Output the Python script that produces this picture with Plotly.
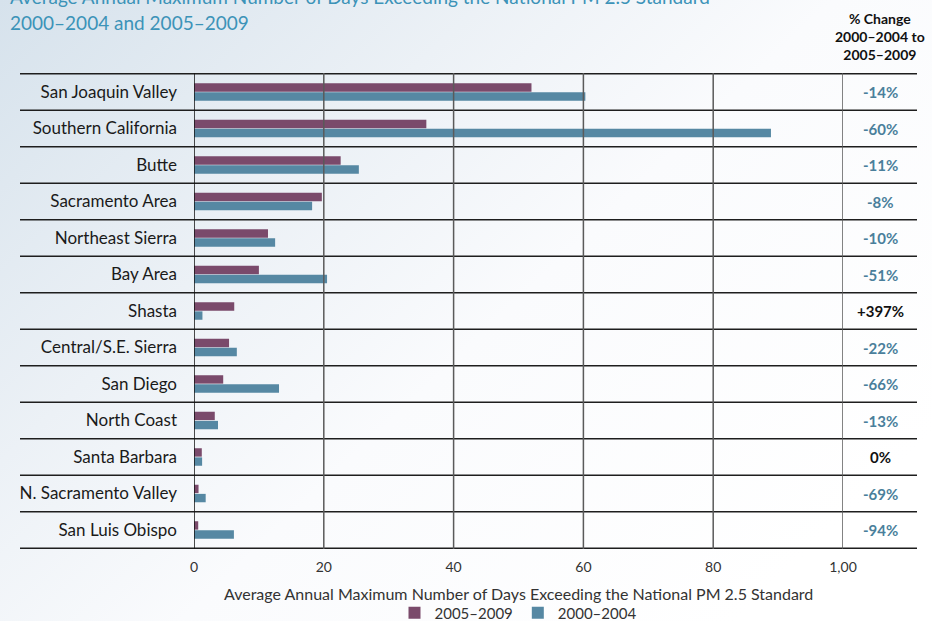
import base64
import plotly.graph_objects as go

# data
REGIONS = [
    "San Joaquin Valley", "Southern California", "Butte", "Sacramento Area",
    "Northeast Sierra", "Bay Area", "Shasta", "Central/S.E. Sierra",
    "San Diego", "North Coast", "Santa Barbara", "N. Sacramento Valley",
    "San Luis Obispo",
]
DAYS_2005_2009 = [52.0, 35.8, 22.6, 19.7, 11.4, 10.0, 6.2, 5.4, 4.5, 3.2, 1.2, 0.7, 0.65]
DAYS_2000_2004 = [60.3, 88.9, 25.4, 18.2, 12.5, 20.5, 1.3, 6.6, 13.1, 3.7, 1.25, 1.8, 6.15]
PCT_CHANGE = ["-14%", "-60%", "-11%", "-8%", "-10%", "-51%", "+397%",
              "-22%", "-66%", "-13%", "0%", "-69%", "-94%"]
TICK_VALS = [0, 20, 40, 60, 80, 100]
TICK_TEXT = ["0", "20", "40", "60", "80", "1,00"]

PURPLE = "#7a4a6b"
TEAL = "#5688a3"
PCT_TEAL = "#4a7f9b"
TITLE_TEAL = "#3c93b8"

W, H = 932, 621
L, R, T, B = 194, 89, 73, 72
pw, ph = W - L - R, H - T - B


def px_x(p):
    return (p - L) / pw


def px_y(p):
    return (H - B - p) / ph


# soft diagonal background like the printed page
svg = f"""<svg xmlns='http://www.w3.org/2000/svg' width='{W}' height='{H}'>
<defs><linearGradient id='g' x1='0' y1='0' x2='1' y2='0.7'>
<stop offset='0' stop-color='#d6e2ec'/><stop offset='0.35' stop-color='#ecf1f6'/>
<stop offset='0.6' stop-color='#fafbfd'/><stop offset='1' stop-color='#ffffff'/>
</linearGradient></defs><rect width='{W}' height='{H}' fill='url(#g)'/></svg>"""
bg_src = "data:image/svg+xml;base64," + base64.b64encode(svg.encode()).decode()

fig = go.Figure()
fig.add_trace(go.Bar(
    y=REGIONS, x=DAYS_2005_2009, orientation="h", name="2005–2009",
    marker=dict(color=PURPLE, line=dict(width=0)),
))
fig.add_trace(go.Bar(
    y=REGIONS, x=DAYS_2000_2004, orientation="h", name="2000–2004",
    marker=dict(color=TEAL, line=dict(width=0)),
))

shapes = []
# row separators spanning the whole table
for i in range(len(REGIONS) + 1):
    shapes.append(dict(
        type="line", xref="paper", yref="y",
        x0=px_x(20), x1=px_x(917), y0=i - 0.5, y1=i - 0.5,
        line=dict(color="#1e1e1e", width=1.5), layer="above",
    ))
# vertical grid lines
for v in TICK_VALS:
    shapes.append(dict(
        type="line", xref="x", yref="paper", x0=v, x1=v, y0=0, y1=1,
        line=dict(color="#111111" if v == 0 else "#5a5a5a", width=1.5),
        layer="above",
    ))

annotations = []
for reg, pct in zip(REGIONS, PCT_CHANGE):
    col = PCT_TEAL if pct.startswith("-") else "#111111"
    annotations.append(dict(
        x=px_x(880), xref="paper", y=reg, yref="y", text=f"<b>{pct}</b>",
        xanchor="center", yanchor="middle", showarrow=False,
        font=dict(family="Lato", size=15, color=col),
    ))
annotations += [
    dict(x=px_x(880), y=px_y(36), xref="paper", yref="paper",
         xanchor="center", yanchor="middle",
         text="<b>% Change<br>2000–2004 to<br>2005–2009</b>",
         showarrow=False, align="center",
         font=dict(family="Lato", size=14, color="#111111")),
    dict(x=px_x(8), y=px_y(-3), xref="paper", yref="paper",
         xanchor="left", yanchor="middle",
         text="Average Annual Maximum Number of Days Exceeding the National PM 2.5 Standard",
         showarrow=False, font=dict(family="Lato", size=19, color=TITLE_TEAL)),
    dict(x=px_x(8), y=px_y(23), xref="paper", yref="paper",
         xanchor="left", yanchor="middle",
         text="2000–2004 and 2005–2009",
         showarrow=False, font=dict(family="Lato", size=19, color=TITLE_TEAL)),
    # axis title placed by hand so the margins stay fixed
    dict(x=px_x(518), y=px_y(593), xref="paper", yref="paper",
         xanchor="center", yanchor="middle",
         text="Average Annual Maximum Number of Days Exceeding the National PM 2.5 Standard",
         showarrow=False, font=dict(family="Lato", size=16, color="#333333")),
]

fig.update_layout(
    width=W, height=H,
    margin=dict(l=L, r=R, t=T, b=B, pad=0),
    barmode="group", bargap=0.5, bargroupgap=0.08,
    paper_bgcolor="#ffffff", plot_bgcolor="rgba(0,0,0,0)",
    font=dict(family="Lato", color="#1a1a1a"),
    xaxis=dict(
        range=[0, 100], tickvals=TICK_VALS, ticktext=TICK_TEXT,
        showgrid=False, zeroline=False, showline=False, automargin=False,
        tickfont=dict(size=14, color="#333333"), ticklabelstandoff=8,
    ),
    yaxis=dict(
        autorange="reversed", showgrid=False, zeroline=False, showline=False,
        automargin=False, tickfont=dict(size=17, color="#1a1a1a"),
        ticklabelstandoff=16,
    ),
    legend=dict(orientation="h", xref="container", yref="container",
                x=518 / W, xanchor="center", y=(H - 613) / H, yanchor="middle",
                font=dict(size=15, color="#333333"),
                bgcolor="rgba(0,0,0,0)", traceorder="normal"),
    shapes=shapes,
    annotations=annotations,
    images=[dict(source=bg_src, xref="paper", yref="paper",
                 x=px_x(0), y=px_y(0), sizex=W / pw, sizey=H / ph,
                 sizing="stretch", layer="below", xanchor="left", yanchor="top")],
)

fig.write_html(
    "out.html",
    config={"displayModeBar": False},
    post_script="document.body.style.margin='0';document.body.style.overflow='hidden';",
)
